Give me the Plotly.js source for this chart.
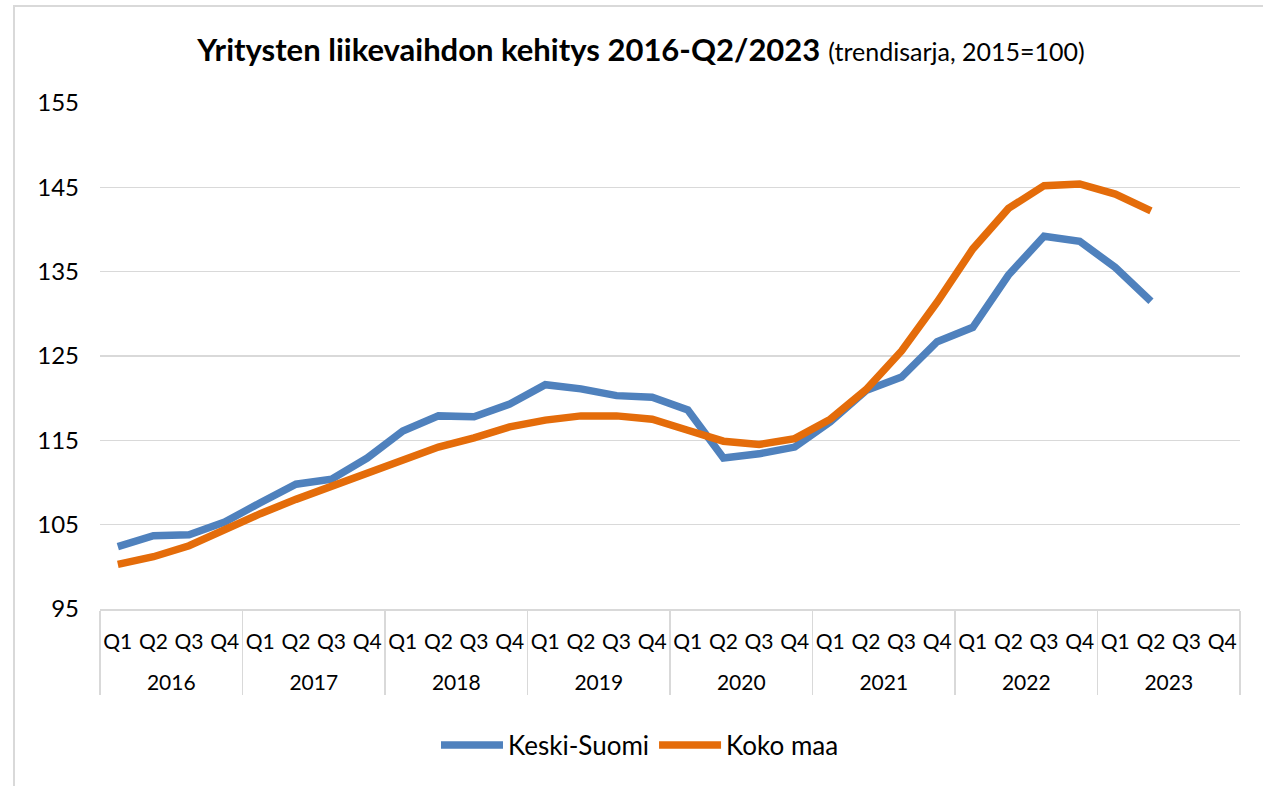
<!DOCTYPE html>
<html>
<head>
<meta charset="utf-8">
<script src="https://cdn.plot.ly/plotly-3.0.1.min.js"></script>
<style>
  html, body { margin: 0; padding: 0; background: #ffffff; }
  #chart { width: 1263px; height: 786px; }
</style>
</head>
<body>
<div id="chart"></div>
<script>
// Category labels
const yearLabels = ["2016", "2017", "2018", "2019", "2020", "2021", "2022", "2023"];
const quarterLabels = ["Q1", "Q2", "Q3", "Q4"];

// Series values (trend index, 2015=100), 2016 Q1 .. 2023 Q4 (no data after Q2/2023)
const keskiSuomi = [
  102.4, 103.7, 103.8, 105.3,
  107.6, 109.8, 110.4, 112.9,
  116.1, 117.9, 117.8, 119.3,
  121.6, 121.1, 120.3, 120.1,
  118.6, 112.9, 113.4, 114.2,
  117.2, 120.9, 122.5, 126.7,
  128.4, 134.6, 139.2, 138.6,
  135.5, 131.5, null, null
];
const kokoMaa = [
  100.3, 101.2, 102.5, 104.5,
  106.3, 108.0, 109.6, 111.0,
  112.7, 114.2, 115.3, 116.6,
  117.4, 117.9, 117.9, 117.5,
  116.2, 114.9, 114.5, 115.2,
  117.5, 121.0, 125.6, 131.4,
  137.7, 142.5, 145.2, 145.4,
  144.2, 142.2, null, null
];
const seriesNames = ["Keski-Suomi", "Koko maa"];

// Build multicategory x arrays from the labels (blank first line spaces the year row lower)
const xYears = [];
const xQuarters = [];
yearLabels.forEach(y => quarterLabels.forEach(q => { xYears.push("<br>" + y); xQuarters.push(q); }));

const FONT = "Lato, 'Open Sans', sans-serif";

const traces = [
  {
    type: "scatter", mode: "lines", name: seriesNames[0],
    x: [xYears, xQuarters], y: keskiSuomi,
    line: { color: "#4f81bd", width: 7.5 },
    connectgaps: false, hoverinfo: "skip"
  },
  {
    type: "scatter", mode: "lines", name: seriesNames[1],
    x: [xYears, xQuarters], y: kokoMaa,
    line: { color: "#e46c0a", width: 7.5 },
    connectgaps: false, hoverinfo: "skip"
  }
];

const layout = {
  width: 1263, height: 786,
  paper_bgcolor: "#ffffff", plot_bgcolor: "#ffffff",
  margin: { l: 100, r: 23, t: 103, b: 177, pad: 0 },
  font: { family: FONT, color: "#000000", size: 22 },
  title: {
    text: "<b>Yritysten liikevaihdon kehitys 2016-Q2/2023</b> <span style='font-size:25px'>(trendisarja, 2015=100)</span>",
    font: { family: FONT, size: 31, color: "#000000" },
    xref: "container", x: 0.5075, xanchor: "center",
    yref: "container", y: 1 - 50 / 786, yanchor: "middle"
  },
  xaxis: {
    type: "multicategory",
    range: [-0.5, 31.5],
    showgrid: false, zeroline: false,
    showline: true, linecolor: "#d9d9d9", linewidth: 1.5,
    showdividers: true, dividercolor: "#d9d9d9", dividerwidth: 1.5,
    ticks: "", ticklabelstandoff: 13,
    tickangle: 0,
    tickfont: { family: FONT, size: 21, color: "#000000" },
    fixedrange: true
  },
  yaxis: {
    range: [95, 155], tick0: 95, dtick: 10,
    showgrid: true, gridcolor: "#d9d9d9", gridwidth: 1.5,
    zeroline: false, showline: false,
    ticks: "", ticklabelstandoff: 20,
    tickfont: { family: FONT, size: 24, color: "#000000" },
    fixedrange: true
  },
  showlegend: true,
  legend: {
    orientation: "h",
    x: (640 - 100) / 1140, xanchor: "center", xref: "paper",
    y: (609 - 745) / 506, yanchor: "middle",
    font: { family: FONT, size: 26, color: "#000000" },
    itemwidth: 62, traceorder: "normal",
    bgcolor: "rgba(0,0,0,0)"
  },
  shapes: [
    {
      type: "rect", xref: "paper", yref: "paper",
      x0: (14 - 100) / 1140, x1: (1275 - 100) / 1140,
      y0: (609 - 800) / 506, y1: (609 - 6) / 506,
      line: { color: "#d9d9d9", width: 2 }, fillcolor: "rgba(0,0,0,0)", layer: "below"
    }
  ]
};

Plotly.newPlot("chart", traces, layout, { displayModeBar: false, staticPlot: true });
</script>
</body>
</html>
